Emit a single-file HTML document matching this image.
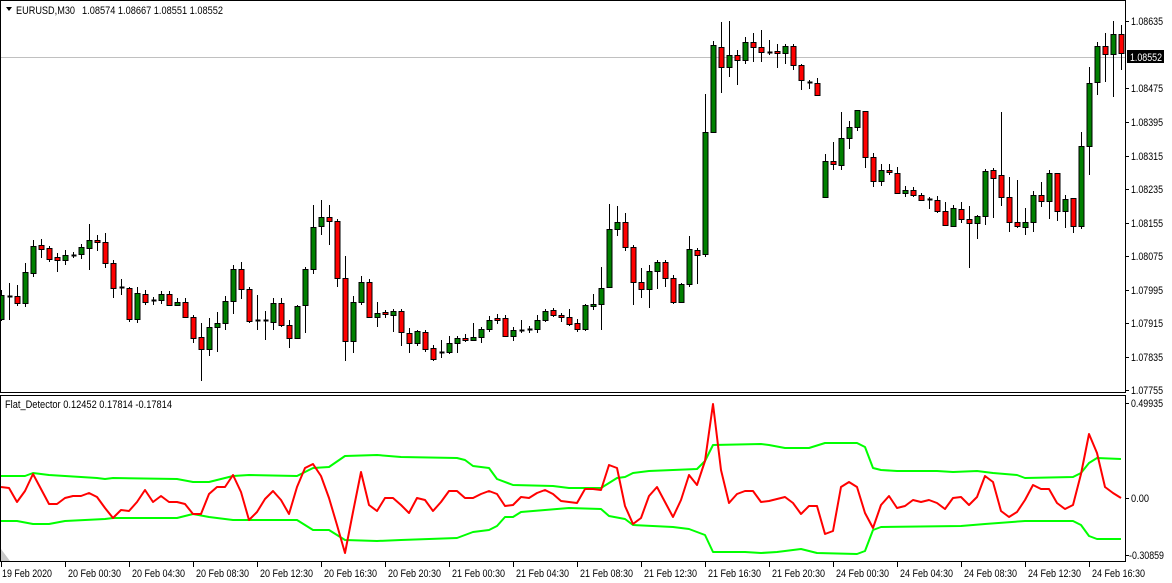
<!DOCTYPE html>
<html><head><meta charset="utf-8">
<style>
html,body{margin:0;padding:0;background:#fff;}
svg{display:block;font-family:"Liberation Sans",sans-serif;font-size:11px;}
</style></head>
<body>
<svg id="c" width="1172" height="583" xmlns="http://www.w3.org/2000/svg">
<rect width="1172" height="583" fill="#fff"/>
<line x1="0" y1="57.5" x2="1125" y2="57.5" stroke="#c0c0c0" stroke-width="1"/>
<g id="candles"></g>
<g id="ind"></g>
<rect x="0.5" y="0.5" width="1125" height="392" fill="none" stroke="#000"/>
<rect x="0.5" y="395.5" width="1125" height="166" fill="none" stroke="#000"/>
<polygon points="1,549 1,561 10,561" fill="#c8c8c8"/>
<path d="M6,7 L12,7 L9,11 Z" fill="#000"/>
<text x="16" y="14" fill="#000" textLength="59" lengthAdjust="spacingAndGlyphs">EURUSD,M30</text>
<text x="82" y="14" fill="#000" textLength="141" lengthAdjust="spacingAndGlyphs">1.08574 1.08667 1.08551 1.08552</text>
<text x="5" y="408" fill="#000" textLength="167" lengthAdjust="spacingAndGlyphs">Flat_Detector 0.12452 0.17814 -0.17814</text>
<g id="axes" fill="#000"></g>
<rect x="1127" y="50" width="37" height="13" fill="#000"/>
<text x="1130" y="61" fill="#fff" textLength="32" lengthAdjust="spacingAndGlyphs">1.08552</text>
</svg>
<script>
var NS="http://www.w3.org/2000/svg";
function el(p,t,a,txt){var e=document.createElementNS(NS,t);for(var k in a)e.setAttribute(k,a[k]);if(txt!==undefined)e.textContent=txt;p.appendChild(e);return e;}
var C=[
[1,'g',295,319,290,321],[9,'d',296,296,283,320],[17,'r',296,303,285,306],[25,'g',272,303,263,307],[33,'g',246,273,240,277],[41,'r',245,249,239,258],[49,'r',248,259,246,262],[57,'r',257,260,253,272],[65,'g',255,260,250,265],[73,'d',255,255,252,258],[81,'g',247,254,244,259],[89,'g',240,248,224,270],[97,'r',240,242,235,251],[105,'r',242,263,233,268],[113,'r',263,288,260,298],[121,'d',287,287,279,295],[129,'r',288,319,287,322],[137,'g',293,319,287,323],[145,'r',294,302,290,305],[153,'d',300,300,297,305],[161,'g',294,300,291,304],[169,'r',294,305,291,305],[177,'g',302,305,298,306],[185,'r',302,317,298,318],[193,'r',317,338,315,343],[201,'r',337,349,323,381],[209,'g',327,349,318,356],[217,'g',323,327,312,352],[225,'g',301,323,296,330],[233,'g',269,301,265,314],[241,'r',269,289,262,299],[249,'r',289,321,287,323],[257,'d',320,320,295,330],[265,'d',320,320,311,340],[273,'g',303,322,298,330],[281,'r',303,325,298,327],[289,'r',325,338,320,348],[297,'g',306,338,305,338],[305,'g',269,305,267,333],[313,'g',227,269,205,274],[321,'g',217,226,200,235],[329,'r',217,221,205,245],[337,'r',221,278,219,287],[345,'r',278,341,256,361],[353,'g',302,341,296,353],[361,'g',282,302,276,305],[369,'r',282,317,279,317],[377,'g',313,317,302,327],[385,'r',312,314,310,318],[393,'g',311,315,309,332],
[401,'r',311,332,309,346],[409,'r',333,343,328,353],[417,'g',331,343,330,346],[425,'r',332,349,330,352],[433,'r',348,359,345,361],[441,'d',352,352,340,358],[449,'g',343,352,336,354],[457,'g',338,343,336,353],[465,'r',338,340,334,342],[473,'g',337,340,323,341],[481,'g',329,337,327,343],[489,'g',320,329,316,332],[497,'r',318,320,314,324],[505,'r',318,336,315,337],[513,'g',330,336,327,341],[521,'d',330,330,320,333],[529,'d',329,329,326,333],[537,'g',320,329,315,333],[545,'g',311,320,309,322],[553,'r',310,315,308,317],[561,'r',315,317,313,322],[569,'r',317,324,309,326],[577,'r',323,329,319,332],[585,'g',305,329,304,331],[593,'g',304,306,294,310],[601,'g',288,304,267,330],[609,'g',229,287,204,287],[617,'g',222,229,206,236],[625,'r',222,247,213,251],[633,'r',247,282,245,305],[641,'r',282,289,268,298],[649,'g',271,289,265,308],[657,'g',262,271,260,289],[665,'r',262,278,260,287],[673,'r',278,302,275,304],[681,'g',284,302,283,303],[689,'g',249,284,236,287],[697,'r',250,255,248,284],[705,'g',132,254,94,257],[713,'g',45,132,41,133],[721,'r',47,67,22,93],[729,'g',55,67,21,77],[737,'r',55,60,50,85],[745,'g',42,60,37,64],[753,'r',42,47,33,62],[761,'r',47,52,30,62],[769,'d',52,52,40,55],[777,'r',51,53,44,68],[785,'g',46,53,44,64],[793,'r',46,65,44,70],
[801,'r',65,80,64,90],[809,'d',82,82,80,89],[817,'r',83,95,78,96],[825,'g',161,197,154,198],[833,'r',161,164,142,170],[841,'g',138,165,112,170],[849,'g',127,138,121,149],[857,'g',110,127,110,131],[865,'r',111,157,111,168],[873,'r',157,181,153,187],[881,'g',170,181,164,186],[889,'r',170,172,164,175],[897,'r',173,193,167,193],[905,'g',190,193,186,197],[913,'r',190,195,187,197],[921,'r',195,200,193,201],[929,'d',199,199,197,209],[937,'r',200,211,196,213],[945,'r',211,225,202,226],[953,'g',208,226,205,226],[961,'r',209,219,202,223],[969,'r',219,223,206,268],[977,'g',216,223,215,239],[985,'g',171,216,169,225],[993,'r',170,178,168,218],[1001,'r',175,197,112,206],[1009,'r',197,222,177,232],[1017,'r',222,226,180,228],[1025,'g',222,227,208,235],[1033,'g',195,222,191,232],[1041,'r',195,201,182,207],[1049,'g',173,201,170,219],[1057,'r',173,211,173,221],[1065,'g',199,211,195,228],[1073,'r',198,226,198,233],[1081,'g',146,226,132,229],[1089,'g',83,146,67,175],[1097,'g',46,82,42,95],[1105,'r',46,54,33,82],[1113,'g',34,54,21,97],[1121,'r',34,53,25,70]];
var g=document.getElementById('candles');
C.forEach(function(c){var x=c[0]+0.5;
 el(g,'line',{x1:x,y1:c[4],x2:x,y2:c[5],stroke:'#000','stroke-width':1});
 if(c[1]=='d'){el(g,'line',{x1:x-2,y1:c[2]+0.5,x2:x+3,y2:c[2]+0.5,stroke:'#000','stroke-width':2});}
 else{var h=Math.max(c[3]-c[2],2);el(g,'rect',{x:x-2.5,y:c[2]+0.5,width:5,height:h,fill:c[1]=='g'?'#008000':'#ff0000',stroke:'#000','stroke-width':1});}
});
var red=[[1,487],[9,488],[17,502],[25,491],[33,474],[41,489],[49,504],[57,504],[65,498],[73,496],[81,496],[89,493],[97,497],[105,508],[113,518],[121,510],[129,511],[137,502],[145,490],[153,502],[161,496],[169,502],[177,502],[185,504],[193,514],[201,514],[209,494],[217,487],[225,487],[233,475],[241,492],[249,520],[257,512],[265,499],[273,491],[281,500],[289,514],[297,487],[305,468],[313,464],[321,476],[329,498],[337,525],[345,553],[353,512],[361,472],[369,505],[377,511],[385,498],[393,498],[401,505],[409,513],[417,498],[425,500],[433,511],[441,502],[449,491],[457,491],[465,498],[473,498],[481,494],[489,491],[497,494],[505,506],[513,505],[521,497],[529,498],[537,493],[545,490],[553,494],[561,501],[569,502],[577,503],[585,489],[593,489],[601,490],[609,465],[617,468],[625,506],[633,524],[641,518],[649,496],[657,487],[665,502],[673,517],[681,500],[689,475],[697,485],[705,461],[713,404],[721,470],[729,503],[737,494],[745,491],[753,491],[761,502],[769,501],[777,499],[785,497],[793,503],[801,514],[809,506],[817,506],[825,534],[833,531],[841,487],[849,482],[857,487],[865,513],[873,528],[881,505],[889,496],[897,508],[905,506],[913,500],[921,502],[929,500],[937,503],[945,509],[953,498],[961,497],[969,505],[977,497],[985,476],[993,482],[1001,511],[1009,517],[1017,512],[1025,500],[1033,485],[1041,489],[1049,489],[1057,503],[1065,509],[1073,505],[1081,474],[1089,434],[1097,453],[1105,487],[1113,493],[1121,498]];
var up=[[1,476],[25,476],[33,473],[49,475],[65,476],[97,478],[105,479],[113,478],[177,479],[193,482],[209,482],[233,476],[249,475],[297,476],[313,468],[329,467],[345,456],[377,455],[401,457],[457,458],[465,460],[473,466],[489,468],[497,479],[513,485],[553,486],[569,488],[601,488],[609,483],[617,478],[625,477],[633,473],[649,471],[697,469],[705,461],[713,445],[761,444],[769,445],[785,448],[809,448],[825,443],[857,443],[865,447],[873,468],[881,470],[897,471],[937,471],[953,472],[977,471],[993,473],[1017,475],[1025,478],[1073,477],[1081,473],[1089,463],[1097,458],[1121,459]];
var lo=[[1,521],[17,521],[33,524],[49,524],[65,521],[105,519],[113,518],[177,518],[193,514],[209,517],[233,520],[297,520],[313,530],[329,530],[345,540],[377,541],[401,540],[457,538],[473,532],[489,530],[497,526],[505,517],[513,517],[521,512],[569,508],[601,509],[609,516],[625,519],[633,525],[673,527],[689,529],[705,535],[713,552],[745,552],[761,553],[777,552],[801,549],[817,553],[857,554],[865,551],[873,530],[881,527],[961,526],[985,524],[1025,521],[1073,521],[1081,525],[1089,536],[1097,539],[1121,539]];
var ind=document.getElementById('ind');
function pl(a,col){el(ind,'polyline',{points:a.map(function(p){return p[0]+','+p[1]}).join(' '),fill:'none',stroke:col,'stroke-width':2,'stroke-linejoin':'round'});}
pl(up,'#00ff00');pl(lo,'#00ff00');pl(red,'#ff0000');
var ax=document.getElementById('axes');
[['1.08635',21],['1.08475',88],['1.08395',122],['1.08315',156],['1.08235',189],['1.08155',223],['1.08075',256],['1.07995',290],['1.07915',323],['1.07835',357],['1.07755',390],['0.49935',403],['0.00',498],['-0.30859',555]].forEach(function(l){
 el(ax,'line',{x1:1125,y1:l[1]+0.5,x2:1129,y2:l[1]+0.5,stroke:'#000'});
 var w=l[0]=='0.00'?18:(l[0][0]=='-'?35:32);
 el(ax,'text',{x:l[0][0]=='-'?1129:1131,y:l[1]+4,textLength:w,lengthAdjust:'spacingAndGlyphs'},l[0]);
});
var labs=['19 Feb 2020','20 Feb 00:30','20 Feb 04:30','20 Feb 08:30','20 Feb 12:30','20 Feb 16:30','20 Feb 20:30','21 Feb 00:30','21 Feb 04:30','21 Feb 08:30','21 Feb 12:30','21 Feb 16:30','21 Feb 20:30','24 Feb 00:30','24 Feb 04:30','24 Feb 08:30','24 Feb 12:30','24 Feb 16:30'];
labs.forEach(function(t,i){var x=1+64*i;
 el(ax,'line',{x1:x+0.5,y1:562,x2:x+0.5,y2:567,stroke:'#000'});
 el(ax,'text',{x:i==0?2:x+3,y:577,textLength:i==0?50:53,lengthAdjust:'spacingAndGlyphs'},t);
});
</script>
</body></html>
